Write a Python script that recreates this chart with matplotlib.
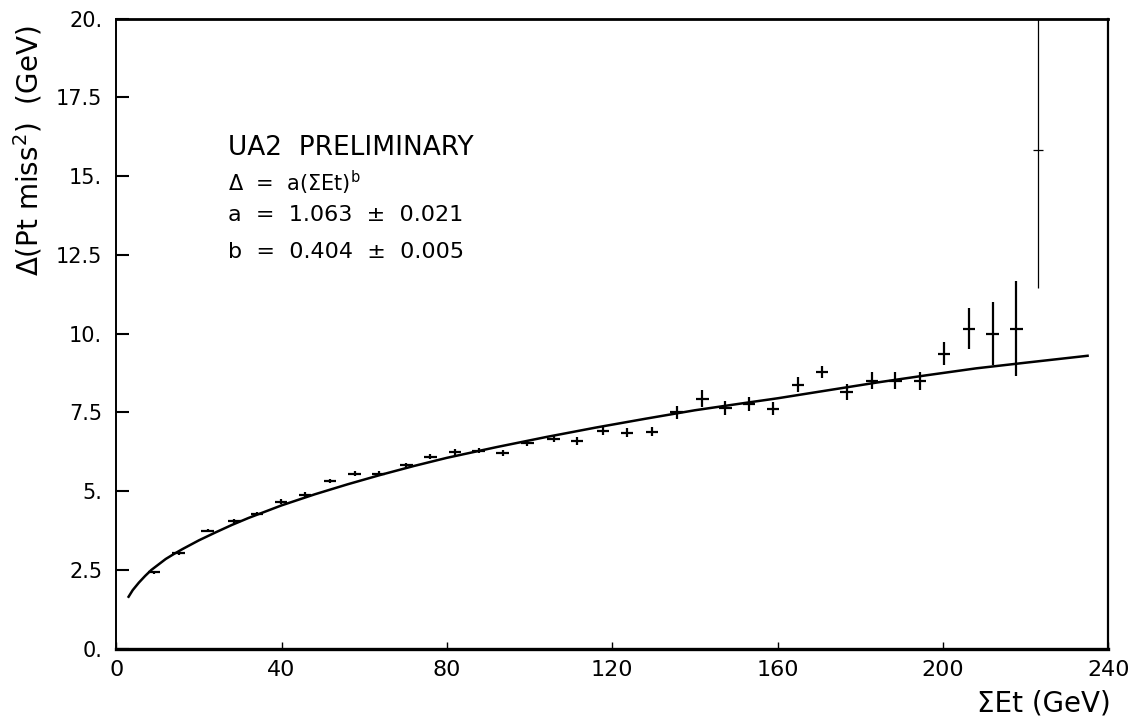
import matplotlib
matplotlib.use("Agg")
import matplotlib.pyplot as plt

# measured points: sum Et (GeV) vs Delta(Pt miss^2) (GeV)
sum_et = [9.1, 15.1, 22.1, 28.6, 34.1, 39.9, 45.7, 51.7, 57.7, 63.5,
          70.2, 76.0, 82.0, 87.7, 93.5, 99.5, 105.8, 111.5, 117.8, 123.6,
          129.6, 135.6, 141.8, 147.4, 153.1, 158.9, 164.9, 170.7, 176.7, 182.9,
          188.5, 194.5, 200.2, 206.3, 212.0, 217.8, 223.1]
delta = [2.42, 3.05, 3.75, 4.06, 4.29, 4.67, 4.89, 5.33, 5.56, 5.56,
         5.83, 6.10, 6.25, 6.29, 6.22, 6.54, 6.67, 6.60, 6.92, 6.86,
         6.89, 7.50, 7.94, 7.65, 7.78, 7.62, 8.38, 8.79, 8.16, 8.51,
         8.51, 8.50, 9.37, 10.16, 10.00, 10.16, 15.84]
delta_err = [0.06, 0.06, 0.06, 0.06, 0.06, 0.07, 0.07, 0.07, 0.07, 0.08,
             0.08, 0.08, 0.09, 0.09, 0.09, 0.1, 0.1, 0.12, 0.12, 0.14,
             0.15, 0.22, 0.28, 0.22, 0.22, 0.2, 0.24, 0.18, 0.25, 0.28,
             0.28, 0.3, 0.37, 0.65, 1.0, 1.5, 4.4]

# fitted curve as drawn on the plot
fit_x = [3, 4, 5.5, 7, 8.5, 10, 12, 14, 16, 20, 24, 28, 32, 40, 48, 56, 64,
         72, 80, 92, 104, 116, 128, 140, 152, 160, 172, 184, 196, 208, 220, 235]
fit_y = [1.65, 1.86, 2.10, 2.31, 2.50, 2.65, 2.85, 3.01, 3.16, 3.44, 3.69,
         3.93, 4.15, 4.55, 4.90, 5.22, 5.52, 5.80, 6.06, 6.40, 6.72, 7.02,
         7.30, 7.57, 7.80, 7.95, 8.20, 8.45, 8.68, 8.90, 9.08, 9.30]

x_ticks = [0, 40, 80, 120, 160, 200, 240]
y_ticks = [0, 2.5, 5, 7.5, 10, 12.5, 15, 17.5, 20]
y_ticklabels = ["0.", "2.5", "5.", "7.5", "10.", "12.5", "15.", "17.5", "20."]

plt.rcParams['font.family'] = ['DejaVu Sans']

fig = plt.figure(figsize=(11.39, 7.2), dpi=100)
ax = fig.add_axes([0.102, 0.099, 0.871, 0.875])

n = len(sum_et)
ax.errorbar(sum_et[:n-1], delta[:n-1], yerr=delta_err[:n-1], xerr=1.5,
            fmt='none', ecolor='black', elinewidth=1.6, capsize=0)
# last bin drawn thin
ax.errorbar(sum_et[n-1:], delta[n-1:], yerr=delta_err[n-1:], xerr=1.2,
            fmt='none', ecolor='black', elinewidth=0.9, capsize=0)

ax.plot(fit_x, fit_y, color='black', lw=1.8)

ax.set_xlim(0, 240)
ax.set_ylim(0, 20)
ax.set_xticks(x_ticks)
ax.set_xticklabels([str(t) for t in x_ticks])
ax.set_yticks(y_ticks)
ax.set_yticklabels(y_ticklabels)
ax.tick_params(axis='y', direction='in', length=9, width=1.5, labelsize=15, pad=10)
ax.tick_params(axis='x', direction='in', length=5, width=1.0, labelsize=16, pad=8)
ax.spines['bottom'].set_linewidth(2.4)
ax.spines['top'].set_linewidth(2.0)
ax.spines['left'].set_linewidth(1.4)
ax.spines['right'].set_linewidth(1.6)

ax.set_ylabel("Δ(Pt miss$^2$)  (GeV)", fontsize=20)
ax.yaxis.set_label_coords(-0.072, 0.79)
ax.set_xlabel("ΣEt (GeV)", fontsize=20)
ax.xaxis.set_label_coords(0.935, -0.065)

ax.text(0.113, 0.795, "UA2  PRELIMINARY", transform=ax.transAxes,
        fontsize=19, va='center', ha='left')
ax.text(0.113, 0.74, "Δ  =  a(ΣEt)$^\\mathrm{b}$", transform=ax.transAxes,
        fontsize=15, va='center', ha='left')
ax.text(0.113, 0.688, "a  =  1.063  ±  0.021", transform=ax.transAxes,
        fontsize=16, va='center', ha='left')
ax.text(0.113, 0.63, "b  =  0.404  ±  0.005", transform=ax.transAxes,
        fontsize=16, va='center', ha='left')

plt.savefig("out.png", dpi=100)
plt.close()
